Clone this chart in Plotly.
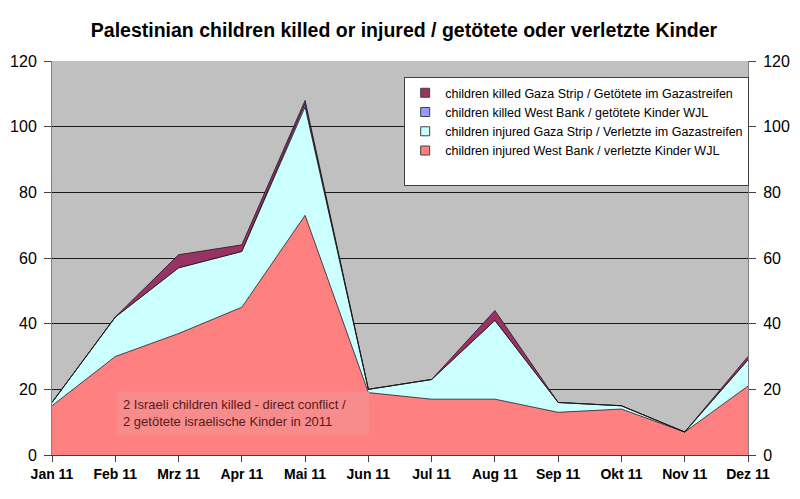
import plotly.graph_objects as go

months = ["Jan 11", "Feb 11", "Mrz 11", "Apr 11", "Mai 11", "Jun 11",
          "Jul 11", "Aug 11", "Sep 11", "Okt 11", "Nov 11", "Dez 11"]
injured_wb = [15, 30, 37, 45, 73, 19, 17, 17, 13, 14, 7, 21]
injured_gaza = [1, 12, 20, 17, 33, 1, 6, 24, 3, 1, 0, 8]
killed_wb = [0, 0, 0, 0, 1, 0, 0, 0, 0, 0, 0, 0]
killed_gaza = [0, 0, 4, 2, 1, 0, 0, 3, 0, 0, 0, 1]
y_ticks = [0, 20, 40, 60, 80, 100, 120]

x = list(range(len(months)))

series = [
    ("children injured West Bank / verletzte Kinder WJL", injured_wb, "#FF8080"),
    ("children injured Gaza Strip / Verletzte im Gazastreifen", injured_gaza, "#CCFFFF"),
    ("children killed West Bank / getötete Kinder WJL", killed_wb, "#9999FF"),
    ("children killed Gaza Strip / Getötete im Gazastreifen", killed_gaza, "#993366"),
]

fig = go.Figure()
for name, vals, col in series:
    fig.add_trace(go.Scatter(
        x=x, y=vals, name=name, mode="lines", stackgroup="one",
        fillcolor=col, line=dict(color="rgba(20,20,20,0.75)", width=1),
        hoverinfo="skip", showlegend=False,
    ))

# legend entries with square swatches (reversed order -> first added is at bottom)
fig.add_trace(go.Scatter(x=[None], y=[None], name=" ", mode="markers",
                         marker=dict(color="rgba(0,0,0,0)", size=1),
                         showlegend=True, hoverinfo="skip"))
for name, vals, col in series:
    fig.add_trace(go.Scatter(
        x=[None], y=[None], name=name, mode="markers",
        marker=dict(symbol="square", size=9, color=col,
                    line=dict(color="#404040", width=1)),
        hoverinfo="skip",
    ))

# invisible trace for the right-hand axis
fig.add_trace(go.Scatter(x=[0], y=[0], yaxis="y2", mode="markers",
                         marker=dict(opacity=0), showlegend=False, hoverinfo="skip"))

font_family = "Liberation Sans, Arial, sans-serif"

fig.update_layout(
    width=792, height=491,
    margin=dict(l=44, r=52, t=53, b=44, autoexpand=False),
    paper_bgcolor="white",
    plot_bgcolor="#C0C0C0",
    title=dict(text="<b>Palestinian children killed or injured / getötete oder verletzte Kinder</b>",
               x=0.5, xanchor="center", y=1 - 22 / 491, yanchor="middle",
               font=dict(family=font_family, size=19.5, color="black")),
    xaxis=dict(range=[0, 11], tickvals=x, ticktext=[f"<b>{m}</b>" for m in months],
               automargin=False,
               showgrid=False, zeroline=False, ticks="outside", ticklen=6,
               tickcolor="#404040", showline=True, linecolor="#404040", linewidth=1,
               tickfont=dict(family=font_family, size=14, color="black")),
    yaxis=dict(range=[0, 120], tickvals=y_ticks, showgrid=True, gridcolor="#1a1a1a",
               automargin=False,
               gridwidth=1, zeroline=False, ticks="outside", ticklen=7,
               ticklabelstandoff=4,
               tickcolor="#404040", showline=True, linecolor="#808080", linewidth=1,
               tickfont=dict(family=font_family, size=16, color="black")),
    yaxis2=dict(range=[0, 120], tickvals=y_ticks, overlaying="y", side="right",
                automargin=False,
                showgrid=False, zeroline=False, ticks="outside", ticklen=7,
                ticklabelstandoff=4,
                tickcolor="#404040", showline=True, linecolor="#808080", linewidth=1,
                tickfont=dict(family=font_family, size=16, color="black")),
    legend=dict(x=0.506, y=0.959, xanchor="left", yanchor="top",
                traceorder="reversed", bgcolor="white", bordercolor="#404040",
                borderwidth=1, font=dict(family=font_family, size=12.5, color="black"),
                itemwidth=30, tracegroupgap=0),
    annotations=[dict(
        x=1.03, y=19.5, xref="x", yref="y", xanchor="left", yanchor="top",
        text="2 Israeli children killed - direct conflict /&nbsp;&nbsp;&nbsp;&nbsp;&nbsp;<br>2 getötete israelische Kinder in 2011",
        showarrow=False, align="left", bgcolor="#F78C8C",
        font=dict(family=font_family, size=13, color="#5A1A1A"),
        borderpad=5,
    )],
)

fig.write_html("out.html")
